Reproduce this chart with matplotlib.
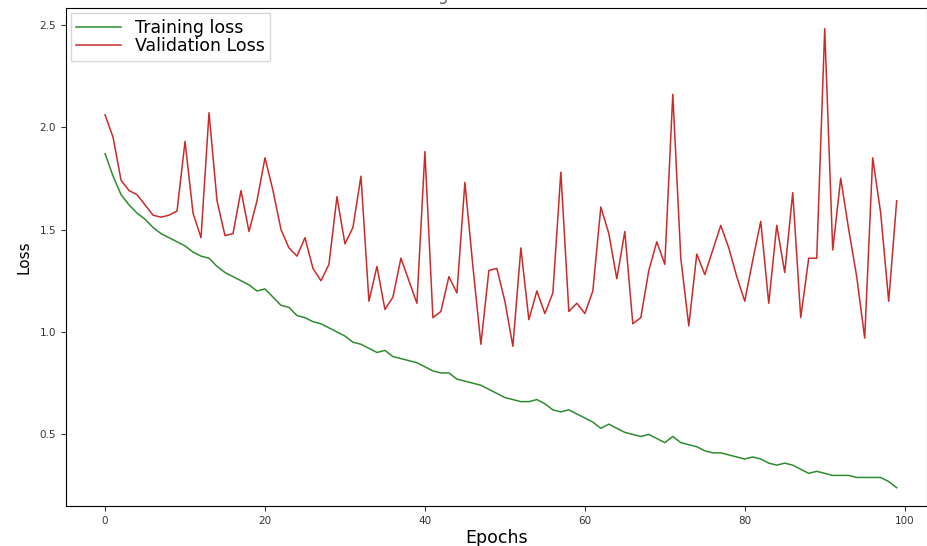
import numpy as np
import matplotlib
matplotlib.use("Agg")
import matplotlib.pyplot as plt

# loss values, one per epoch (0..99)
train_loss = [
    1.87, 1.76, 1.67, 1.62, 1.58, 1.55, 1.51, 1.48, 1.46, 1.44,
    1.42, 1.39, 1.37, 1.36, 1.32, 1.29, 1.27, 1.25, 1.23, 1.20,
    1.21, 1.17, 1.13, 1.12, 1.08, 1.07, 1.05, 1.04, 1.02, 1.00,
    0.98, 0.95, 0.94, 0.92, 0.90, 0.91, 0.88, 0.87, 0.86, 0.85,
    0.83, 0.81, 0.80, 0.80, 0.77, 0.76, 0.75, 0.74, 0.72, 0.70,
    0.68, 0.67, 0.66, 0.66, 0.67, 0.65, 0.62, 0.61, 0.62, 0.60,
    0.58, 0.56, 0.53, 0.55, 0.53, 0.51, 0.50, 0.49, 0.50, 0.48,
    0.46, 0.49, 0.46, 0.45, 0.44, 0.42, 0.41, 0.41, 0.40, 0.39,
    0.38, 0.39, 0.38, 0.36, 0.35, 0.36, 0.35, 0.33, 0.31, 0.32,
    0.31, 0.30, 0.30, 0.30, 0.29, 0.29, 0.29, 0.29, 0.27, 0.24,
]
val_loss = [
    2.06, 1.95, 1.74, 1.69, 1.67, 1.62, 1.57, 1.56, 1.57, 1.59,
    1.93, 1.58, 1.46, 2.07, 1.64, 1.47, 1.48, 1.69, 1.49, 1.64,
    1.85, 1.69, 1.50, 1.41, 1.37, 1.46, 1.31, 1.25, 1.33, 1.66,
    1.43, 1.51, 1.76, 1.15, 1.32, 1.11, 1.17, 1.36, 1.25, 1.14,
    1.88, 1.07, 1.10, 1.27, 1.19, 1.73, 1.32, 0.94, 1.30, 1.31,
    1.15, 0.93, 1.41, 1.06, 1.20, 1.09, 1.19, 1.78, 1.10, 1.14,
    1.09, 1.20, 1.61, 1.48, 1.26, 1.49, 1.04, 1.07, 1.30, 1.44,
    1.33, 2.16, 1.36, 1.03, 1.38, 1.28, 1.40, 1.52, 1.41, 1.27,
    1.15, 1.35, 1.54, 1.14, 1.52, 1.29, 1.68, 1.07, 1.36, 1.36,
    2.48, 1.40, 1.75, 1.50, 1.27, 0.97, 1.85, 1.58, 1.15, 1.64,
]
epochs = np.arange(len(train_loss))

fig = plt.figure(figsize=(9.28, 5.46), dpi=100)
ax = fig.add_axes([0.071, 0.073, 0.928, 0.912])

ax.plot(epochs, train_loss, color="#2e8b2e", linewidth=1.1, label="Training loss")
ax.plot(epochs, val_loss, color="#cc2a2a", linewidth=1.1, label="Validation Loss")

ax.set_xlim(-4.9, 102.8)
ax.set_ylim(0.15, 2.58)
ax.set_xticks([0, 20, 40, 60, 80, 100])
ax.set_yticks([0.5, 1.0, 1.5, 2.0, 2.5])
ax.tick_params(labelsize=7.5, colors="#333333")

ax.set_xlabel("Epochs", fontsize=12.5, labelpad=2)
ax.set_ylabel("Loss", fontsize=11, labelpad=6)

ax.legend(loc="upper left", fontsize=12.5, labelspacing=0.05,
          borderaxespad=0.3, borderpad=0.3, handlelength=2.6,
          fancybox=False)

# title sits mostly above the top edge, as in the source image
fig.text(0.535, 1 - 4 / 546, "Training and validation loss",
         ha="center", va="bottom", fontsize=12, color="#666666")

fig.savefig("out.png", dpi=100)
